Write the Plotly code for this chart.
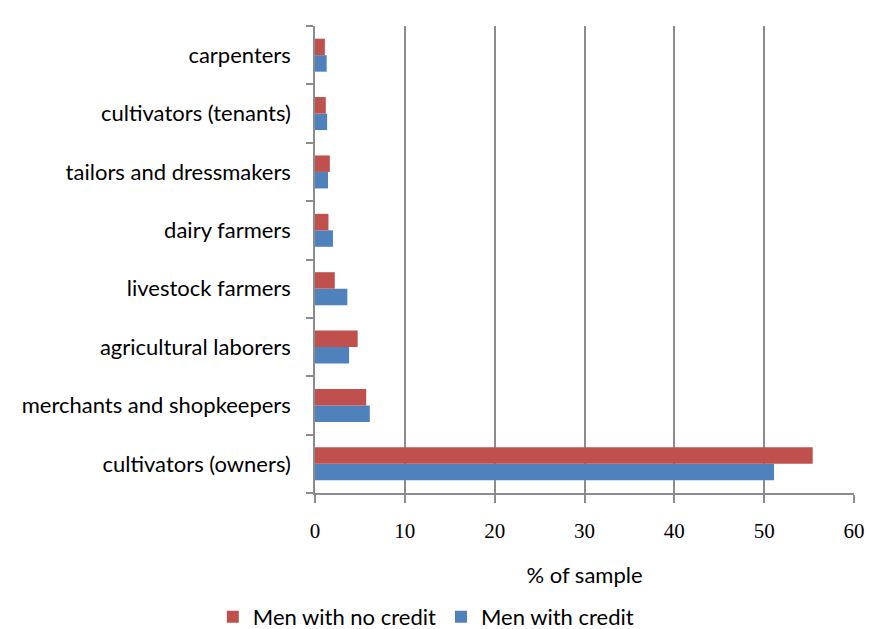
import plotly.graph_objects as go

categories = ["cultivators (owners)", "merchants and shopkeepers", "agricultural laborers",
              "livestock farmers", "dairy farmers", "tailors and dressmakers",
              "cultivators (tenants)", "carpenters"]
no_credit = [55.4, 5.7, 4.75, 2.2, 1.5, 1.65, 1.2, 1.1]
with_credit = [51.1, 6.1, 3.8, 3.6, 2.0, 1.45, 1.35, 1.3]
x_ticks = [0, 10, 20, 30, 40, 50, 60]

fig = go.Figure()
fig.add_trace(go.Bar(y=categories, x=with_credit, orientation="h", name="Men with credit",
                     marker=dict(color="#4F81BD", line=dict(width=0))))
fig.add_trace(go.Bar(y=categories, x=no_credit, orientation="h", name="Men with no credit",
                     marker=dict(color="#C0504D", line=dict(width=0))))

fig.update_layout(
    width=869, height=629,
    margin=dict(l=315, r=15, t=26, b=136, autoexpand=False),
    paper_bgcolor="white", plot_bgcolor="white",
    barmode="group", bargap=0.435, bargroupgap=0,
    font=dict(family="Lato, Open Sans, sans-serif", size=22, color="black"),
    legend=dict(orientation="h", traceorder="reversed", xref="container", yref="container",
                x=0.49, xanchor="center", y=0.019, yanchor="middle",
                font=dict(size=22), itemwidth=30),
    showlegend=True,
)
fig.update_xaxes(range=[0, 60], tickvals=x_ticks, showgrid=True, gridcolor="#8c8c8c", gridwidth=1.5,
                 showline=True, linecolor="#8c8c8c", linewidth=1.5, ticks="outside", ticklen=8,
                 tickcolor="#8c8c8c", tickwidth=1.5, zeroline=False, automargin=False,
                 tickfont=dict(family="Liberation Serif, Times New Roman, serif", size=21),
                 ticklabelstandoff=10,
                 title=dict(text="% of sample", standoff=26, font=dict(size=22)))
fig.update_yaxes(showline=True, linecolor="#8c8c8c", linewidth=1.5, ticks="outside", ticklen=7,
                 tickcolor="#8c8c8c", tickwidth=1.5, tickson="boundaries", showgrid=False,
                 automargin=False, ticklabelstandoff=18, tickfont=dict(size=22))

fig.write_html("out.html")
